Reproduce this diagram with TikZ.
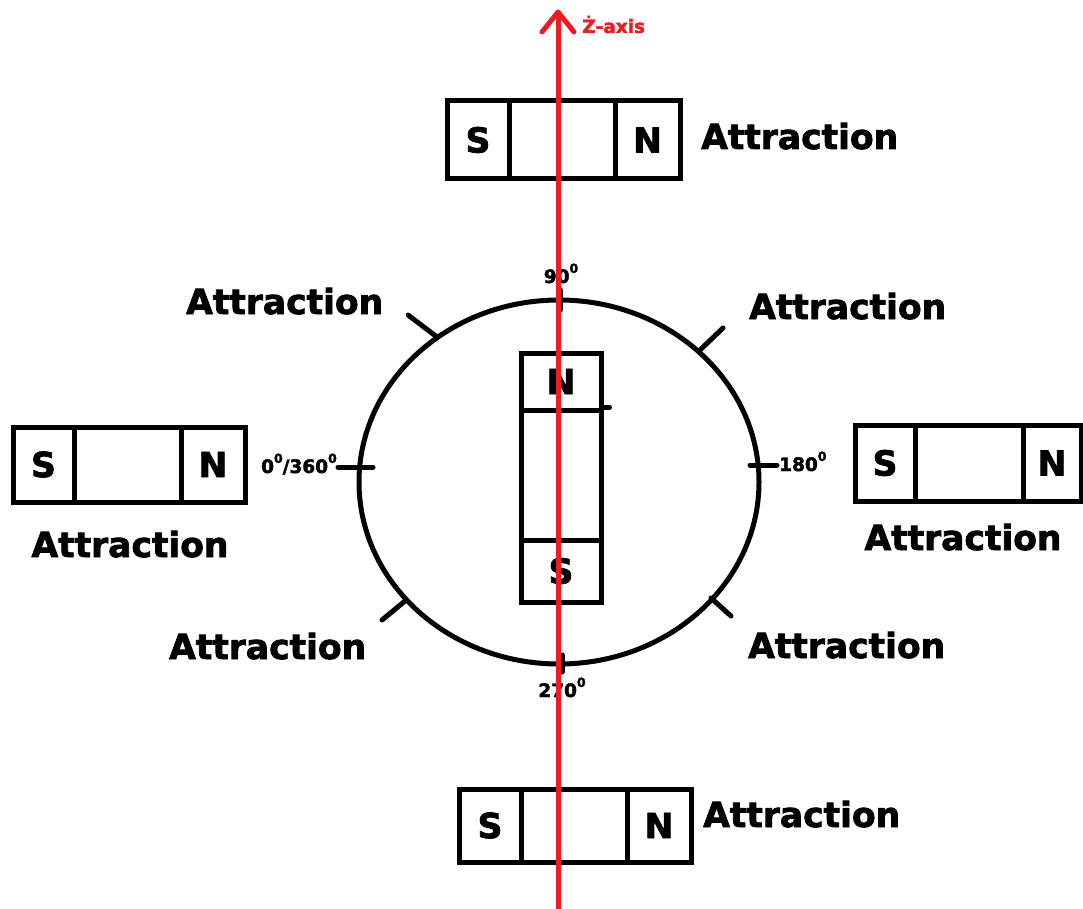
\documentclass[tikz,border=0pt]{standalone}
\usepackage{fontspec}
\setmainfont{DejaVu Sans}
\newfontfamily\heavy{DejaVu Sans}[BoldFont={DejaVu Sans Bold},BoldFeatures={FakeBold=2.2}]
\usetikzlibrary{calc}
\definecolor{zred}{RGB}{237,28,36}
\newcommand{\bigfnt}{\heavy\fontsize{34.5}{40}\selectfont\bfseries}
\newcommand{\degfnt}{\heavy\fontsize{18.5}{21}\selectfont\bfseries}
\newcommand{\sdeg}{\raisebox{0.55em}{\fontsize{12.5}{14}\selectfont 0}}
\begin{document}
\begin{tikzpicture}[x=1pt,y=-1pt,
  cell/.style 2 args={draw,line width=5pt,minimum width=#1,minimum height=#2,inner sep=0pt,font=\bigfnt},
  attr/.style={inner sep=0pt,font=\bigfnt},
  deg/.style={inner sep=0pt,font=\degfnt},
  tick/.style={line width=5pt,line cap=round},
  ring/.style={line width=5pt},
  zaxis/.style={draw=zred,line width=5pt},
  zlabel/.style={inner sep=0pt,text=zred,font=\heavy\fontsize{18.5}{21}\selectfont\bfseries}]
\useasboundingbox (0,0) rectangle (1083,909);

% top magnet
\node[cell={62pt}{78pt}] (tS) at (478,140) {S};
\node[cell={106pt}{78pt}] (tM) at (562,140) {};
\node[cell={65pt}{78pt}] (tN) at (647.5,140) {N};
\node[attr,anchor=base west] (tA) at (701,149) {Attraction};

% left magnet
\node[cell={61pt}{75pt}] (lS) at (43.5,464.5) {S};
\node[cell={107pt}{75pt}] (lM) at (127.5,464.5) {};
\node[cell={64pt}{75pt}] (lN) at (213,464.5) {N};
\node[attr,anchor=base] (lA) at (130,557) {Attraction};

% right magnet
\node[cell={60pt}{76pt}] (rS) at (885,463) {S};
\node[cell={108pt}{76pt}] (rM) at (969,463) {};
\node[cell={58pt}{76pt}] (rN) at (1052,463) {N};
\node[attr,anchor=base] (rA) at (963,550) {Attraction};

% bottom magnet
\node[cell={62pt}{73pt}] (bS) at (490,825.5) {S};
\node[cell={106pt}{73pt}] (bM) at (574,825.5) {};
\node[cell={64pt}{73pt}] (bN) at (659,825.5) {N};
\node[attr,anchor=base west] (bA) at (703,827) {Attraction};

% ring
\draw[ring] (559,482) ellipse [x radius=200, y radius=182];

% ticks
\draw[tick] (560,290) -- (560,310);
\draw[tick] (562,655) -- (562,672);
\draw[tick] (338,467) -- (373,467);
\draw[tick] (750,465) -- (777,465);
\draw[tick] (408,315) -- (437,337);
\draw[tick] (700,350) -- (723,328);
\draw[tick] (382,620) -- (405,601);
\draw[tick] (711,598) -- (731,616);

% degree labels
\node[deg,anchor=base] (d90) at (561,283) {90\sdeg};
\node[deg,anchor=base east] (d0) at (337,473) {0\sdeg/360\sdeg};
\node[deg,anchor=base west] (d180) at (779,471) {180\sdeg};
\node[deg,anchor=base] (d270) at (562,697) {270\sdeg};

% diagonal attraction labels
\node[attr,anchor=base west] (aTL) at (186,314) {Attraction};
\node[attr,anchor=base west] (aTR) at (749,319) {Attraction};
\node[attr,anchor=base west] (aBL) at (169,659) {Attraction};
\node[attr,anchor=base west] (aBR) at (748,658) {Attraction};

% center magnet
\node[cell={80pt}{57pt}] (cN) at (561,381.5) {N};
\node[cell={80pt}{130pt}] (cM) at (561,475) {};
\node[cell={80pt}{62pt}] (cS) at (561,571) {S};
\draw[line width=5pt,line cap=round] (cM.north east) -- ++(6,0);

% z axis
\coordinate (zbot) at (558,909);
\coordinate (ztop) at (558,12);
\draw[zaxis] (zbot) -- (ztop);
\draw[zaxis,line cap=round,line join=round] ($(ztop)+(-16,20)$) -- (ztop) -- ($(ztop)+(16,20)$);
\node[zlabel,anchor=base west] (zl) at (582,33) {Ż-axis};
\end{tikzpicture}
\end{document}
